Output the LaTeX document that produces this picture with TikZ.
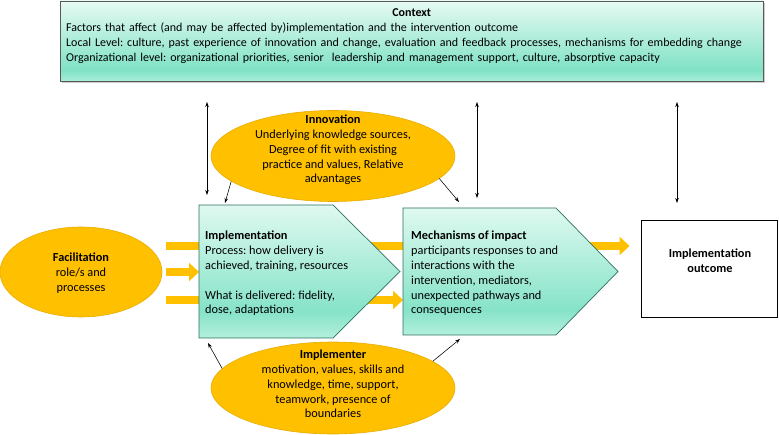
\documentclass[tikz,border=0pt]{standalone}
\usepackage{fontspec}
\setmainfont{Carlito}
\usetikzlibrary{shapes.geometric,arrows.meta}
\definecolor{gold}{HTML}{FFC000}
\definecolor{goldedge}{HTML}{E8AC00}
\definecolor{tealedge}{HTML}{2D6E60}
\definecolor{mintT}{HTML}{DFF9F0}
\definecolor{mintD}{HTML}{86E3C8}
\definecolor{mintB}{HTML}{B3EFDC}
\definecolor{ctxT}{HTML}{E6FAF3}
\definecolor{ctxD}{HTML}{80E2C5}
\definecolor{ctxB}{HTML}{A8EDD8}
\pgfdeclareverticalshading{mintsh}{100bp}{color(0bp)=(mintB); color(25bp)=(mintB); color(35bp)=(mintD); color(75bp)=(mintT); color(100bp)=(mintT)}
\pgfdeclareverticalshading{ctxsh}{100bp}{color(0bp)=(ctxB); color(25bp)=(ctxB); color(32bp)=(ctxD); color(75bp)=(ctxT); color(100bp)=(ctxT)}
\pgfdeclarelayer{bg}
\pgfsetlayers{bg,main}
\frenchspacing
\begin{document}
\begin{tikzpicture}[x=1pt, y=-1pt,
  font=\fontsize{12.3}{14.8}\selectfont,
  mintshape/.style={draw=tealedge, line width=0.7pt, shade, shading=mintsh},
  goldell/.style={ellipse, fill=gold, draw=goldedge, line width=0.6pt, inner sep=0pt},
  barrow/.style={draw=gold, line width=8pt, -{Triangle[length=10pt,width=18pt]}},
  tharrow/.style={draw=black, line width=0.55pt, -{Stealth[length=5pt,width=3.5pt]}},
  dblarrow/.style={draw=black, line width=0.55pt, {Stealth[length=5pt,width=3.5pt]}-{Stealth[length=5pt,width=3.5pt]}},
  txt/.style={inner sep=0pt, align=left},
  ctxt/.style={inner sep=0pt, align=center}]
\useasboundingbox (0,0) rectangle (779,435);
% context
\fill[black!20] (62,3) rectangle (765,83);
\node[draw=black!65, line width=0.8pt, shade, shading=ctxsh, minimum width=703pt, minimum height=80pt, inner sep=0pt] (ctx) at (411.5,41) {};
\node[txt, anchor=north west, text width=691pt, font=\fontsize{12}{15.2}\selectfont] (ctxtext) at (66,8) {\makebox[\linewidth]{\textbf{Context}}\\
Factors that affect (and may be affected by)implementation and the intervention outcome\\
Local Level: culture, past experience of innovation and change, evaluation and feedback processes, mechanisms for embedding change\\
Organizational level: organizational priorities, senior\ \ leadership and management support, culture, absorptive capacity};
% ellipses
\node[goldell, minimum width=162pt, minimum height=90pt] (fac) at (81,272) {};
\node[goldell, minimum width=244pt, minimum height=91pt] (inno) at (333,156) {};
\node[goldell, minimum width=244pt, minimum height=92pt] (impr) at (333,388) {};
% outcome
\node[draw=black, line width=0.9pt, minimum width=136pt, minimum height=97pt, inner sep=0pt] (out) at (709,268.5) {};
% pentagons
\path[mintshape] (199,205) coordinate (implNW) -- (333,205) coordinate (implNE) -- (400,271.5) coordinate (implE)
  -- (333,338) coordinate (implSE) -- (199,338) coordinate (implSW) -- cycle;
\coordinate (implW) at (199,271.5);
\path[mintshape] (403,208) coordinate (mechNW) -- (556,208) coordinate (mechNE) -- (618,271.5) coordinate (mechE)
  -- (556,335) coordinate (mechSE) -- (403,335) coordinate (mechSW) -- cycle;
\coordinate (mechW) at (403,271.5);
% orange block arrows behind
\begin{pgfonlayer}{bg}
\draw[barrow] ([xshift=4pt,yshift=26pt]fac.east) -- ([xshift=-11pt,yshift=26pt]fac.east -| out.west);
\draw[barrow] ([xshift=4pt]fac.east) -- (fac.east -| implW);
\draw[barrow] ([xshift=4pt,yshift=-28pt]fac.east) -- ([yshift=-28pt]fac.east -| mechW);
\end{pgfonlayer}
% texts
\node[ctxt] (factext) at (81,273) {\textbf{Facilitation}\\role/s and\\processes};
\node[ctxt] (innotext) at (333,150) {\textbf{Innovation}\\Underlying knowledge sources,\\Degree of fit with existing\\practice and values, Relative\\advantages};
\node[ctxt] (imprtext) at (333,384) {\textbf{Implementer}\\motivation, values, skills and\\knowledge, time, support,\\teamwork, presence of\\boundaries};
\node[ctxt] (outtext) at (710,261) {\textbf{Implementation}\\\textbf{outcome}};
\node[txt, anchor=north west] (impltext) at (205,231) {\textbf{Implementation}\\Process: how delivery is\\achieved, training, resources\\[14.8pt]What is delivered: fidelity,\\dose, adaptations};
\node[txt, anchor=north west] (mechtext) at (411,231) {\textbf{Mechanisms of impact}\\participants responses to and\\interactions with the\\intervention, mediators,\\unexpected pathways and\\consequences};
% thin arrows
\draw[tharrow] (inno.194) -- ([xshift=26pt,yshift=2pt]implNW);
\draw[tharrow] (inno.-12) -- ([xshift=56pt,yshift=6pt]mechNW);
\draw[tharrow] (impr.170) -- ([xshift=9pt,yshift=-5pt]implSW);
\draw[tharrow] (impr.15) -- ([xshift=57pt,yshift=-4pt]mechSW);
% context double arrows
\coordinate (v1t) at (207,102); \coordinate (v1b) at (207,195);
\coordinate (v2t) at (477,102); \coordinate (v2b) at (477,198);
\coordinate (v3t) at (677,102); \coordinate (v3b) at (677,203);
\draw[dblarrow] (v1t) -- (v1b);
\draw[dblarrow] (v2t) -- (v2b);
\draw[dblarrow] (v3t) -- (v3b);
\end{tikzpicture}
\end{document}
